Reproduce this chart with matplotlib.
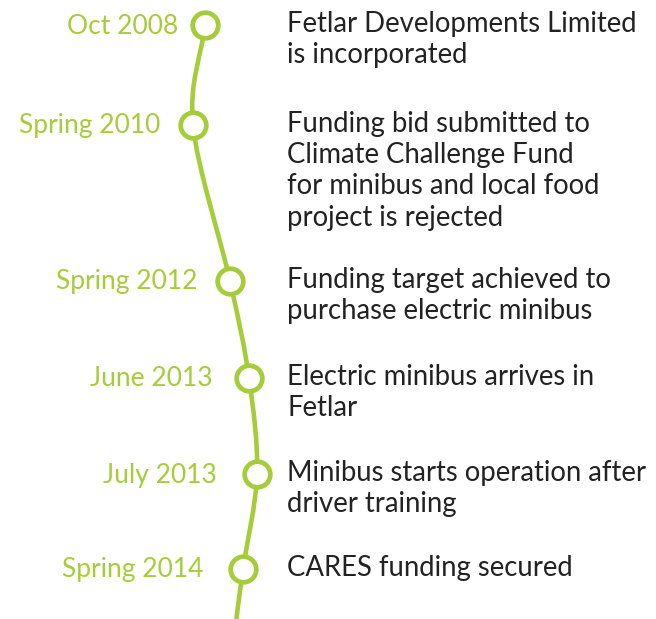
import numpy as np
import matplotlib.pyplot as plt
from matplotlib.path import Path
from matplotlib.patches import PathPatch

# Timeline data
dates = ["Oct 2008", "Spring 2010", "Spring 2012", "June 2013", "July 2013", "Spring 2014"]
events = [
    "Fetlar Developments Limited\nis incorporated",
    "Funding bid submitted to\nClimate Challenge Fund\nfor minibus and local food\nproject is rejected",
    "Funding target achieved to\npurchase electric minibus",
    "Electric minibus arrives in\nFetlar",
    "Minibus starts operation after\ndriver training",
    "CARES funding secured",
]

# layout (pixel coordinates)
node_x = [205, 193, 230, 249, 257, 243]
node_y = [25, 125, 281, 378, 474, 569]
label_gap = [27, 33, 33, 36, 40, 39]
tail = (236, 622)
green = "#a5cd39"
W, H = 656, 619

fig = plt.figure(figsize=(W / 100, H / 100), dpi=100)
ax = fig.add_axes([0, 0, 1, 1])
ax.set_xlim(0, W)
ax.set_ylim(H, 0)
ax.axis("off")

# smooth curve through nodes (Catmull-Rom -> cubic Bezier)
pts = np.array(list(zip(node_x, node_y)) + [tail], dtype=float)
ext = np.vstack([2 * pts[0] - pts[1], pts, 2 * pts[-1] - pts[-2]])
verts = [tuple(pts[0])]
codes = [Path.MOVETO]
for i in range(1, len(ext) - 2):
    p0, p1, p2, p3 = ext[i - 1], ext[i], ext[i + 1], ext[i + 2]
    c1 = p1 + (p2 - p0) / 6
    c2 = p2 - (p3 - p1) / 6
    verts += [tuple(c1), tuple(c2), tuple(p2)]
    codes += [Path.CURVE4] * 3
ax.add_patch(PathPatch(Path(verts, codes), fill=False, edgecolor=green, lw=3.3, zorder=1))

ax.scatter(node_x, node_y, s=340, facecolor="white", edgecolor=green, linewidths=3.4, zorder=2)

font = "Lato"
for x, y, g, d, e in zip(node_x, node_y, label_gap, dates, events):
    ax.text(x - g, y + 1, d, ha="right", va="center", color=green, fontsize=19, family=font)
    ax.text(287, y - 14, e, ha="left", va="top", color="#222222", fontsize=19.8,
            family=font, linespacing=1.25)

fig.savefig("out.png", dpi=100)
